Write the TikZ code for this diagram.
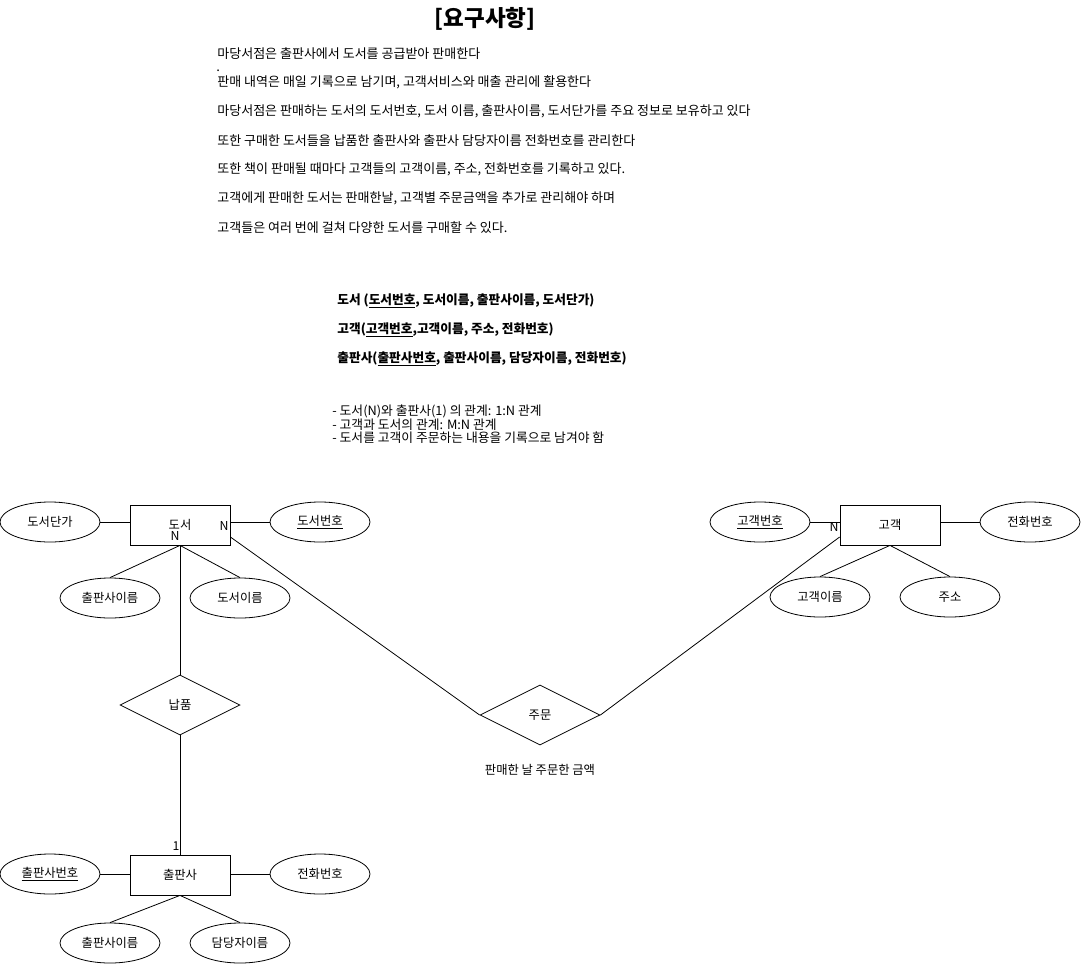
\documentclass[tikz,border=0pt]{standalone}
\usepackage{fontspec}
\setmainfont{Noto Sans CJK KR}
\usetikzlibrary{shapes.geometric}

\begin{document}
\begin{tikzpicture}[x=1pt,y=-1pt,line width=0.8pt,
    every node/.style={font=\fontsize{12.3}{14}\selectfont},
    entity/.style={draw, rectangle, minimum width=100pt, minimum height=40pt, inner sep=0pt},
    attr/.style={draw, ellipse, minimum width=100pt, minimum height=40pt, inner sep=0pt},
    rel/.style={draw, diamond, minimum width=120pt, minimum height=60pt, inner sep=0pt},
    req/.style={anchor=west, inner sep=0pt, yshift=-1.5pt, font=\fontsize{13}{15}\selectfont},
    schema/.style={anchor=west, inner sep=0pt, yshift=-1.5pt, font=\fontsize{12.7}{15}\selectfont\bfseries},
    note/.style={anchor=west, inner sep=0pt, yshift=-1pt, font=\fontsize{12.8}{15}\selectfont},
    card/.style={inner sep=0pt}]
        \useasboundingbox (0,0) rectangle (1081,966);
        % requirements
        \node[font=\fontsize{22.5}{26}\selectfont\bfseries] (title) at (485,19) {[요구사항]};
        \node[req] (r1) at (217,52) {마당서점은 출판사에서 도서를 공급받아 판매한다};
        \node[req] (dot) at (216,69) {.};
        \node[req] (r2) at (217,81) {판매 내역은 매일 기록으로 남기며, 고객서비스와 매출 관리에 활용한다};
        \node[req] (r3) at (217,110) {마당서점은 판매하는 도서의 도서번호, 도서 이름, 출판사이름, 도서단가를 주요 정보로 보유하고 있다};
        \node[req] (r4) at (217,139) {또한 구매한 도서들을 납품한 출판사와 출판사 담당자이름 전화번호를 관리한다};
        \node[req] (r5) at (217,168) {또한 책이 판매될 때마다 고객들의 고객이름, 주소, 전화번호를 기록하고 있다.};
        \node[req] (r6) at (217,197) {고객에게 판매한 도서는 판매한날, 고객별 주문금액을 추가로 관리해야 하며};
        \node[req] (r7) at (217,226) {고객들은 여러 번에 걸쳐 다양한 도서를 구매할 수 있다.};
        % schema
        \node[schema] (s1) at (337,299) {도서 (\underline{도서번호}, 도서이름, 출판사이름, 도서단가)};
        \node[schema] (s2) at (337,328) {고객(\underline{고객번호},고객이름, 주소, 전화번호)};
        \node[schema] (s3) at (337,357) {출판사(\underline{출판사번호}, 출판사이름, 담당자이름, 전화번호)};
        % notes
        \node[note] (n1) at (332,410) {- 도서(N)와 출판사(1) 의 관계: 1:N 관계};
        \node[note] (n2) at (332,423.5) {- 고객과 도서의 관계: M:N 관계};
        \node[note] (n3) at (332,437) {- 도서를 고객이 주문하는 내용을 기록으로 남겨야 함};

        % entities
        \node[entity] (book) at (180,525) {도서};
        \node[entity] (cust) at (890,525) {고객};
        \node[entity] (pub) at (180,875) {출판사};
        % relations
        \node[rel] (supply) at (180,705) {납품};
        \node[rel] (order) at (540,715) {주문};
        \node (orderattr) at (540,770) {판매한 날 주문한 금액};
        % attributes of book
        \node[attr] (bprice) at (50,522) {도서단가};
        \node[attr] (bno) at (320,522) {\underline{도서번호}};
        \node[attr] (bpname) at (110,598) {출판사이름};
        \node[attr] (bname) at (240,598) {도서이름};
        % attributes of customer
        \node[attr] (cno) at (760,522) {\underline{고객번호}};
        \node[attr] (ctel) at (1030,522) {전화번호};
        \node[attr] (cname) at (820,597) {고객이름};
        \node[attr] (caddr) at (950,597) {주소};
        % attributes of publisher
        \node[attr] (pno) at (50,874) {\underline{출판사번호}};
        \node[attr] (ptel) at (320,874) {전화번호};
        \node[attr] (pname) at (110,943) {출판사이름};
        \node[attr] (pman) at (240,943) {담당자이름};

        \draw (bprice) -- (bprice -| book.west);
        \draw (bno) -- (bno -| book.east);
        \draw (book.south) -- (bpname.north);
        \draw (book.south) -- (bname.north);
        \draw (book.south) -- (supply.north);
        \draw (supply.south) -- (pub.north);
        \draw ([yshift=-12pt]book.east) -- (order.west);
        \draw (order.east) -- ([yshift=-12pt]cust.west);
        \draw (cno) -- (cno -| cust.west);
        \draw (ctel) -- (ctel -| cust.east);
        \draw (cust.south) -- (cname.north);
        \draw (cust.south) -- (caddr.north);
        \draw (pno) -- (pno -| pub.west);
        \draw (ptel) -- (ptel -| pub.east);
        \draw (pub.south) -- (pname.north);
        \draw (pub.south) -- (pman.north);

        % cardinalities
        \node[card] (c1) at (224,526) {N};
        \node[card] (c2) at (175,536) {N};
        \node[card] (c3) at (834,527) {N};
        \node[card] (c4) at (176,846) {1};
    \end{tikzpicture}
\end{document}
